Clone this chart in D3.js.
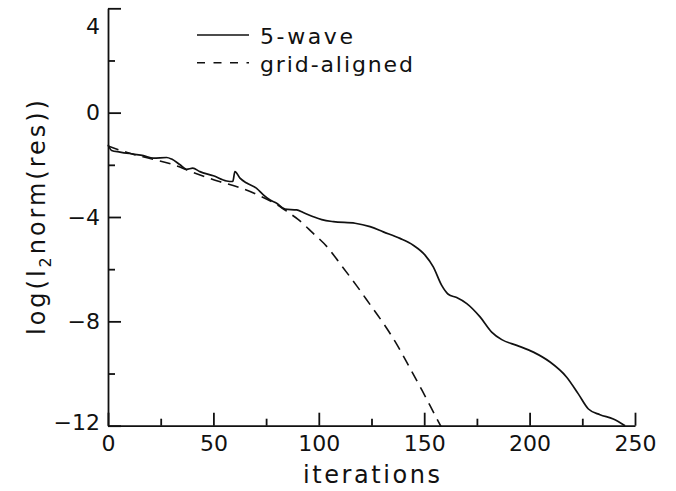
<!DOCTYPE html>
<html>
<head>
<meta charset="utf-8">
<script src="https://cdn.jsdelivr.net/npm/d3@7"></script>
<style>
  html, body { margin: 0; padding: 0; background: #fff; }
  svg { display: block; }
  text { font-family: "DejaVu Sans", "Liberation Sans", sans-serif; fill: #111; }
</style>
</head>
<body>
<svg id="chart" width="676" height="491"></svg>
<script>
// Residual history: log of the l2 norm of the residual against iteration count
const xMajorTicks = [0, 50, 100, 150, 200, 250];
const xMinorTicks = [25, 75, 125, 175, 225];
const yMajorTicks = [4, 0, -4, -8, -12];
const yMinorTicks = [2, -2, -6, -10];

const seriesNames = ["5-wave", "grid-aligned"];

const waveIter = [0, 1.7, 5.7, 12, 16.8, 21.5, 27.8, 30.2, 34.2, 37.3, 40.2, 43.6, 50, 56.3, 59.2, 60.2,
  62.6, 65.8, 70.5, 73.7, 76.9, 80, 84, 89.5, 92.6, 97.4, 101.4, 106.9, 117.2, 124.3, 130.6, 138.5,
  144.8, 150.4, 154.3, 158.3, 161.4, 165.4, 170.2, 176.5, 182, 186.8, 193.9, 201.8, 209.7, 217.6,
  223.1, 227.9, 233.4, 239.7, 245.3];
const waveLog = [-1.23, -1.45, -1.51, -1.59, -1.65, -1.74, -1.72, -1.78, -2.00, -2.17, -2.13, -2.26, -2.42, -2.62, -2.64, -2.26,
  -2.51, -2.70, -2.90, -3.15, -3.35, -3.47, -3.70, -3.73, -3.83, -3.99, -4.10, -4.18, -4.24, -4.37, -4.57, -4.82,
  -5.08, -5.46, -5.91, -6.62, -6.96, -7.09, -7.32, -7.83, -8.41, -8.70, -8.92, -9.18, -9.56, -10.14,
  -10.78, -11.36, -11.58, -11.74, -12.00];

const gridIter = [0, 10, 20, 30, 40, 52, 62, 71, 80, 86, 90, 97, 104, 110, 118, 124, 131, 137, 143, 149, 154, 158];
const gridLog = [-1.28, -1.55, -1.76, -1.97, -2.28, -2.62, -2.86, -3.15, -3.52, -3.85, -4.08, -4.60, -5.15, -5.78,
  -6.64, -7.32, -8.12, -8.88, -9.76, -10.65, -11.42, -12.04];

const svg = d3.select("#chart");
const ink = "#111";

const x = d3.scaleLinear().domain([0, 250]).range([108, 635]);
const y = d3.scaleLinear().domain([-12, 4]).range([425.7, 8.3]);

// x axis: ticks point up into the plot
svg.append("g").attr("transform", `translate(0,${y(-12)})`)
  .call(d3.axisBottom(x).tickValues(xMajorTicks).tickSizeInner(-13).tickSizeOuter(0).tickPadding(10)
    .tickFormat(d3.format("d")));
svg.append("g").attr("transform", `translate(0,${y(-12)})`)
  .call(d3.axisBottom(x).tickValues(xMinorTicks).tickSizeInner(-7).tickSizeOuter(0).tickFormat(""))
  .call(g => g.select(".domain").remove());

// y axis: ticks point right into the plot
const yAxisG = svg.append("g").attr("transform", `translate(${x(0)},0)`)
  .call(d3.axisLeft(y).tickValues(yMajorTicks).tickSizeInner(-13).tickSizeOuter(0).tickPadding(8)
    .tickFormat(d3.format("d")));
svg.append("g").attr("transform", `translate(${x(0)},0)`)
  .call(d3.axisLeft(y).tickValues(yMinorTicks).tickSizeInner(-7).tickSizeOuter(0).tickFormat(""))
  .call(g => g.select(".domain").remove());

svg.selectAll(".domain, .tick line").attr("stroke", ink).attr("stroke-width", 1.8);
svg.selectAll(".tick text").attr("font-size", 22).attr("fill", ink)
  .style("font-family", '"DejaVu Sans", sans-serif');

// end labels sit inside the axis span
yAxisG.selectAll(".tick").filter(d => d === 4).select("text").attr("dy", "1.15em");
yAxisG.selectAll(".tick").filter(d => d === -12).select("text").attr("dy", "0.15em");

// axis titles
svg.append("text")
  .attr("x", (x(0) + x(250)) / 2).attr("y", 483)
  .attr("text-anchor", "middle").attr("font-size", 24)
  .attr("textLength", 137).attr("lengthAdjust", "spacing")
  .text("iterations");

const yTitle = svg.append("text")
  .attr("transform", "translate(45,217.5) rotate(-90)")
  .attr("text-anchor", "middle").attr("font-size", 24)
  .attr("textLength", 235).attr("lengthAdjust", "spacing");
yTitle.append("tspan").text("log(l");
yTitle.append("tspan").attr("font-size", 16).attr("dy", 6).text("2");
yTitle.append("tspan").attr("dy", -6).text("norm(res))");

// curves
const line = d3.line().curve(d3.curveMonotoneX).x(d => x(d[0])).y(d => y(d[1]));

svg.append("path")
  .datum(gridIter.map((v, i) => [v, gridLog[i]]))
  .attr("fill", "none").attr("stroke", ink).attr("stroke-width", 1.6)
  .attr("stroke-dasharray", "11,7")
  .attr("d", line);

svg.append("path")
  .datum(waveIter.map((v, i) => [v, waveLog[i]]))
  .attr("fill", "none").attr("stroke", ink).attr("stroke-width", 1.7)
  .attr("stroke-linejoin", "round")
  .attr("d", line);

// legend
const legend = svg.append("g");
const legendRows = [
  { name: seriesNames[0], dash: null, y: 35, width: 93 },
  { name: seriesNames[1], dash: "8,8.5", y: 62.7, width: 153 }
];
legendRows.forEach(r => {
  legend.append("line")
    .attr("x1", 197).attr("x2", 249).attr("y1", r.y).attr("y2", r.y)
    .attr("stroke", ink).attr("stroke-width", 1.5)
    .attr("stroke-dasharray", r.dash);
  legend.append("text")
    .attr("x", 260).attr("y", r.y + 9)
    .attr("font-size", 22)
    .attr("textLength", r.width).attr("lengthAdjust", "spacing")
    .text(r.name);
});
</script>
</body>
</html>
